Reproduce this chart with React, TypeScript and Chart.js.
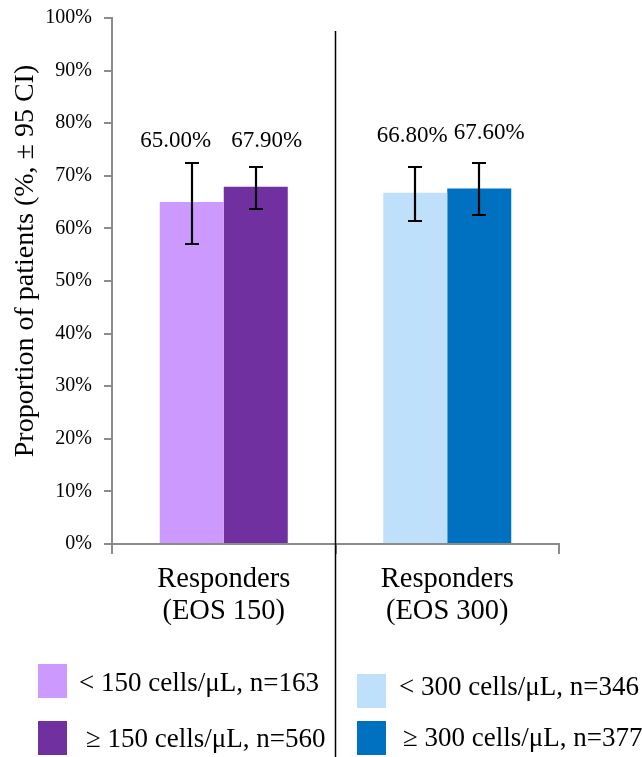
import React, { useEffect, useRef } from "react";
import { Chart, registerables } from "chart.js";

Chart.register(...registerables);

const FONT = "'Liberation Serif', 'Times New Roman', Times, serif";

// ---- data ----
const categories = [
  ["Responders", "(EOS 150)"],
  ["Responders", "(EOS 300)"],
];
const seriesLabels = [
  "< 150 cells/\u03bcL, n=163",
  "\u2265 150 cells/\u03bcL, n=560",
  "< 300 cells/\u03bcL, n=346",
  "\u2265 300 cells/\u03bcL, n=377",
];
const seriesCategory = [0, 0, 1, 1];
const values = [65.0, 67.9, 66.8, 67.6];
const ciLower = [57.1, 63.7, 61.4, 62.6];
const ciUpper = [72.4, 71.7, 71.7, 72.4];
const valueLabels = ["65.00%", "67.90%", "66.80%", "67.60%"];
const yAxisTitle = "Proportion of patients (%, \u00b1 95 CI)";

// ---- styles / layout ----
const seriesColors = ["#CC99FF", "#7030A0", "#BFE0FA", "#0070C0"];
const AXIS_GREY = "#8c8c8c";
const labelOffsets = [
  [-16, -22],
  [11, -26],
  [-3, -31],
  [10, -30],
];
const legendLayout = [
  { bx: 38, by: 664, tx: 79, ty: 684 },
  { bx: 38, by: 721, tx: 86, ty: 740 },
  { bx: 357, by: 674, tx: 399, ty: 688 },
  { bx: 357, by: 721, tx: 403, ty: 739 },
];

const overlayPlugin = {
  id: "overlay",
  afterDatasetsDraw(chart: any) {
    const ctx = chart.ctx;
    const yScale = chart.scales.y;
    chart.data.datasets.forEach((_ds: any, i: number) => {
      const meta = chart.getDatasetMeta(i);
      const bar = meta.data[seriesCategory[i]];
      if (!bar) return;
      const x = Math.round(bar.x);
      const yTop = Math.round(yScale.getPixelForValue(ciUpper[i]));
      const yBot = Math.round(yScale.getPixelForValue(ciLower[i]));
      ctx.save();
      ctx.strokeStyle = "#000";
      ctx.lineWidth = 2.2;
      ctx.beginPath();
      ctx.moveTo(x, yTop);
      ctx.lineTo(x, yBot);
      ctx.moveTo(x - 7, yTop);
      ctx.lineTo(x + 7, yTop);
      ctx.moveTo(x - 7, yBot);
      ctx.lineTo(x + 7, yBot);
      ctx.stroke();
      ctx.font = `23px ${FONT}`;
      ctx.fillStyle = "#000";
      ctx.textAlign = "center";
      ctx.textBaseline = "middle";
      ctx.fillText(valueLabels[i], bar.x + labelOffsets[i][0], yTop + labelOffsets[i][1]);
      ctx.restore();
    });
  },
  afterDraw(chart: any) {
    const ctx = chart.ctx;
    const xScale = chart.scales.x;
    const area = chart.chartArea;
    ctx.save();
    // divider between groups
    const xd = (xScale.getPixelForValue(0) + xScale.getPixelForValue(1)) / 2;
    ctx.strokeStyle = "#000";
    ctx.lineWidth = 1.5;
    ctx.beginPath();
    ctx.moveTo(xd, area.top + 13);
    ctx.lineTo(xd, chart.height);
    ctx.stroke();

    // y axis title
    ctx.save();
    ctx.translate(26, (area.top + area.bottom) / 2 - 20);
    ctx.rotate(-Math.PI / 2);
    ctx.font = `28px ${FONT}`;
    ctx.fillStyle = "#000";
    ctx.textAlign = "center";
    ctx.textBaseline = "middle";
    ctx.fillText(yAxisTitle, 0, 0);
    ctx.restore();

    // legend
    ctx.font = `27px ${FONT}`;
    ctx.textAlign = "left";
    ctx.textBaseline = "middle";
    seriesLabels.forEach((lab, i) => {
      const L = legendLayout[i];
      ctx.fillStyle = seriesColors[i];
      ctx.fillRect(L.bx, L.by, 29, 34);
      ctx.fillStyle = "#000";
      ctx.fillText(lab, L.tx, L.ty);
    });
    ctx.restore();
  },
};

export default function App() {
  const canvasRef = useRef<HTMLCanvasElement | null>(null);

  useEffect(() => {
    const canvas = canvasRef.current;
    if (!canvas) return;
    const datasets = seriesLabels.map((label, i) => ({
      label,
      data: categories.map((_c, ci) => (ci === seriesCategory[i] ? values[i] : null)),
      backgroundColor: seriesColors[i],
      borderWidth: 0,
      categoryPercentage: 0.5727,
      barPercentage: 1.0,
      skipNull: true,
    }));

    const chart = new Chart(canvas, {
      type: "bar",
      data: { labels: categories, datasets },
      plugins: [overlayPlugin],
      options: {
        responsive: false,
        animation: false,
        devicePixelRatio: 1,
        layout: { padding: { left: 0, top: 18, right: 83, bottom: 0 } },
        plugins: {
          legend: { display: false },
          tooltip: { enabled: false },
          title: { display: false },
        },
        scales: {
          x: {
            offset: true,
            grid: {
              display: true,
              offset: true,
              drawOnChartArea: false,
              drawTicks: true,
              tickLength: 10,
              color: AXIS_GREY,
              lineWidth: 2,
            },
            border: { display: true, color: AXIS_GREY, width: 2 },
            ticks: {
              autoSkip: false,
              maxRotation: 0,
              minRotation: 0,
              color: "#000",
              padding: 9,
              font: { family: FONT, size: 28.5, lineHeight: 1.13 },
            },
            afterFit(scale: any) {
              scale.height = 213;
              scale.paddingLeft = 0;
              scale.paddingRight = 0;
            },
          },
          y: {
            min: 0,
            max: 100,
            grid: {
              display: true,
              drawOnChartArea: false,
              drawTicks: true,
              tickLength: 8,
              color: AXIS_GREY,
              lineWidth: 2,
            },
            border: { display: true, color: AXIS_GREY, width: 2 },
            ticks: {
              stepSize: 10,
              color: "#000",
              padding: 12,
              font: { family: FONT, size: 20 },
              callback: (v: any) => `${v}%`,
            },
            afterFit(scale: any) {
              scale.width = 112;
              scale.paddingTop = 0;
              scale.paddingBottom = 0;
            },
          },
        },
      },
    } as any);

    return () => chart.destroy();
  }, []);

  return (
    <div style={{ position: "absolute", left: 0, top: 0, width: 642, height: 757, background: "#fff" }}>
      <canvas ref={canvasRef} width={642} height={757} style={{ display: "block" }} />
    </div>
  );
}
